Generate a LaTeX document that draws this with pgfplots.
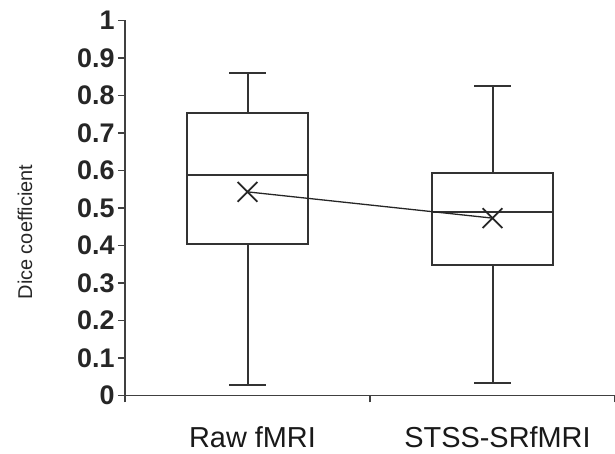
\documentclass[border=0pt]{standalone}
\usepackage{fontspec}
\setmainfont{Liberation Sans}
\usepackage{pgfplots}
\pgfplotsset{compat=1.18}
\usepgfplotslibrary{statistics}
\begin{document}
\begin{tikzpicture}
\path[use as bounding box] (-125bp,-58.5bp) rectangle (490bp,395.5bp);
\begin{axis}[
  at={(0,0)}, anchor=south west,
  scale only axis, width=490bp, height=375bp,
  xmin=0.5, xmax=2.5, ymin=0, ymax=1,
  clip=false,
  boxplot/draw direction=y,
  boxplot/every box/.style={line width=2bp, draw=black!80},
  boxplot/every median/.style={line width=2bp, draw=black!80},
  boxplot/every whisker/.style={line width=2bp, draw=black!80},
  axis x line=bottom, axis y line=left,
  axis line style={-, line width=1.8bp, draw=black!75},
  tick align=outside, major tick length=7bp,
  ytick={0,0.1,0.2,0.3,0.4,0.5,0.6,0.7,0.8,0.9,1},
  yticklabels={0,0.1,0.2,0.3,0.4,0.5,0.6,0.7,0.8,0.9,1},
  ytick style={draw=black!75, line width=1.8bp},
  yticklabel style={font=\fontsize{27}{31}\selectfont\bfseries, text=black!85},
  xtick={1,2}, xticklabels={Raw fMRI, STSS-SRfMRI},
  major x tick style={draw=none},
  xticklabel style={font=\fontsize{29}{33}\selectfont, text=black!90, inner sep=1bp, xshift=5bp, yshift=-23bp},
  extra x ticks={0.5,1.5,2.5}, extra x tick labels={},
  extra x tick style={major x tick style={draw=black!75, line width=1.8bp}},
  /pgf/number format/assume math mode=true,
]
\addplot+[boxplot prepared={draw position=1, lower whisker=0.028, lower quartile=0.403, median=0.588, upper quartile=0.753, upper whisker=0.859, box extend=0.49, whisker extend=0.15}, draw=black!80, line width=2bp, solid, mark=none] coordinates {};
\addplot+[boxplot prepared={draw position=2, lower whisker=0.034, lower quartile=0.348, median=0.489, upper quartile=0.593, upper whisker=0.826, box extend=0.49, whisker extend=0.15}, draw=black!80, line width=2bp, solid, mark=none] coordinates {};
\addplot[black!85, line width=1.3bp, mark=x, mark size=14bp, mark options={line width=1.8bp}] coordinates {(1,0.543) (2,0.473)};
\node[rotate=90, font=\fontsize{20}{24}\selectfont, text=black!85] at ([xshift=-100bp]rel axis cs:0,0.436) {Dice coefficient};
\end{axis}
\end{tikzpicture}
\end{document}
